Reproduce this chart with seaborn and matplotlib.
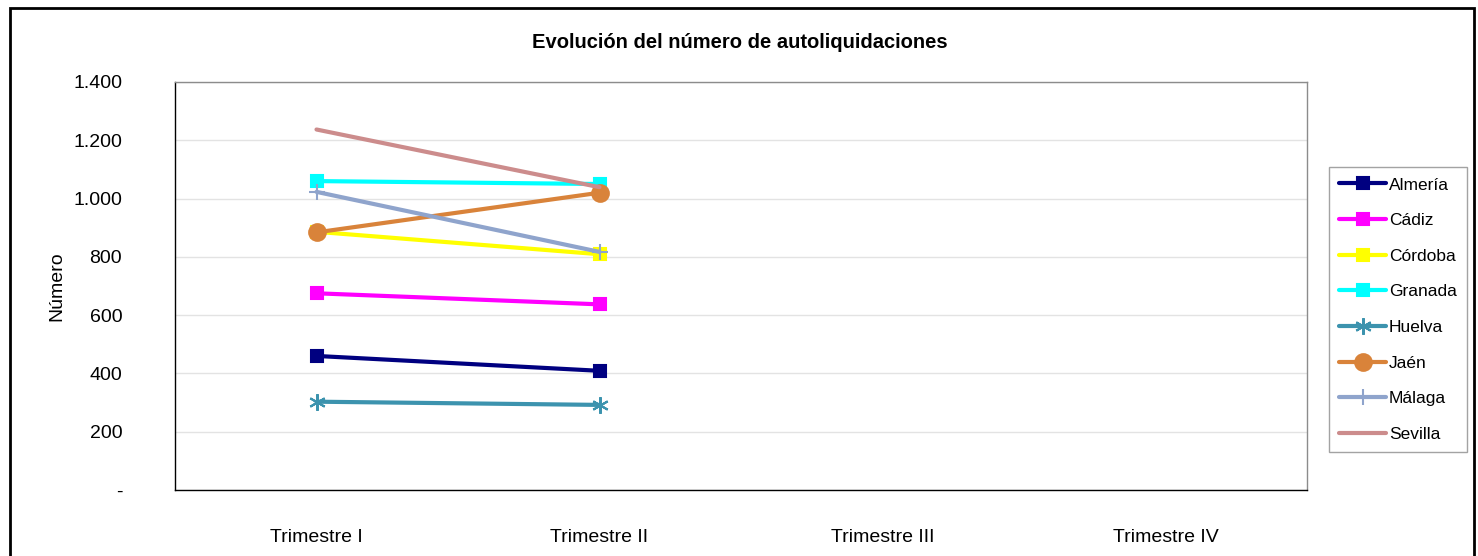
import matplotlib
matplotlib.use("Agg")
import matplotlib.pyplot as plt
import seaborn as sns
import pandas as pd
from matplotlib.ticker import FuncFormatter
from matplotlib.patches import Rectangle

# Data
trimestres = ["Trimestre I", "Trimestre II", "Trimestre III", "Trimestre IV"]
provincias = ["Almería", "Cádiz", "Córdoba", "Granada", "Huelva", "Jaén", "Málaga", "Sevilla"]
almeria = [460, 409]
cadiz = [675, 637]
cordoba = [886, 809]
granada = [1060, 1050]
huelva = [303, 292]
jaen = [884, 1020]
malaga = [1023, 817]
sevilla = [1237, 1039]

valores = [almeria, cadiz, cordoba, granada, huelva, jaen, malaga, sevilla]
colores = ["#000080", "#FF00FF", "#FFFF00", "#00FFFF", "#3C93AE", "#D9833A", "#8FA4CC", "#CC8C8C"]
marcadores = ["s", "s", "s", "s", (6, 2, 0), "o", "+", None]
tam = [8, 8, 8, 8, 12, 12, 12, 0]

rows = []
for p, v in zip(provincias, valores):
    for i, val in enumerate(v):
        rows.append({"Provincia": p, "pos": i, "Número": val})
df = pd.DataFrame(rows)

sns.set_style("white")
plt.rcParams["font.family"] = ["Liberation Sans Narrow", "Liberation Sans", "DejaVu Sans"]
plt.rcParams["text.color"] = "black"
plt.rcParams["axes.labelcolor"] = "black"
plt.rcParams["xtick.color"] = "black"
plt.rcParams["ytick.color"] = "black"

fig = plt.figure(figsize=(14.78, 5.56), dpi=100)
ax = fig.add_axes([175 / 1478, 1 - 490 / 556, (1307 - 175) / 1478, (490 - 82) / 556])

for p, c, m, s in zip(provincias, colores, marcadores, tam):
    sub = df[df["Provincia"] == p]
    sns.lineplot(data=sub, x="pos", y="Número", ax=ax, color=c, linewidth=3,
                 marker=m, markersize=s, markeredgecolor=c, markeredgewidth=1.5,
                 solid_capstyle="round", label=p)

ax.set_xlim(-0.5, 3.5)
ax.set_ylim(0, 1400)
ax.set_xticks(range(4))
ax.set_xticklabels(trimestres, fontsize=14)
ax.set_yticks(range(0, 1401, 200))
ax.yaxis.set_major_formatter(FuncFormatter(lambda v, _: "-" if v == 0 else f"{int(v):,}".replace(",", ".")))
ax.tick_params(axis="y", labelsize=14, pad=38, length=0)
ax.tick_params(axis="x", pad=28, length=0)
ax.grid(axis="y", color="#E3E3E3", linewidth=1)
ax.set_axisbelow(True)
ax.set_xlabel("")
ax.set_ylabel("Número", fontsize=14, labelpad=6)
for side in ["top", "right"]:
    ax.spines[side].set_color("#8C8C8C")
for side in ["left", "bottom"]:
    ax.spines[side].set_color("black")
for sp in ax.spines.values():
    sp.set_linewidth(1)

leg = ax.legend(loc="upper left", bbox_to_anchor=(1329 / 1478, 1 - 167 / 556),
                bbox_transform=fig.transFigure, frameon=True, fancybox=False,
                edgecolor="#8C8C8C", fontsize=12.5, handlelength=2.7,
                handletextpad=0.15, labelspacing=1.18, borderpad=0.6,
                borderaxespad=0)
leg.get_frame().set_linewidth(1)

fig.text(740 / 1478, 1 - 42 / 556, "Evolución del número de autoliquidaciones",
         ha="center", va="center", fontsize=14.5, fontweight="bold")

fig.patches.append(Rectangle((10 / 1478, -0.05), 1464 / 1478, 1 - 8 / 556 + 0.05,
                             transform=fig.transFigure, fill=False,
                             edgecolor="black", linewidth=2))

fig.savefig("out.png", dpi=100)
